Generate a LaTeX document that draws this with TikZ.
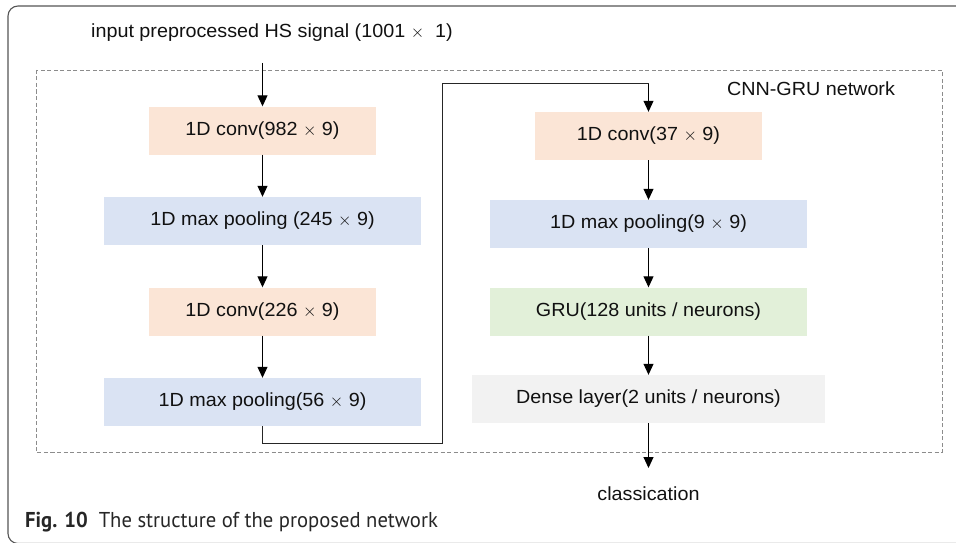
\documentclass[tikz,border=0pt]{standalone}
\usepackage{fontspec}
\setmainfont{Liberation Sans}[FakeStretch=1.04]
\newfontfamily\capfont{PT Sans}[FakeStretch=0.96]
\usetikzlibrary{arrows.meta}
\definecolor{convc}{HTML}{FBE5D6}
\definecolor{poolc}{HTML}{DAE3F3}
\definecolor{gruc}{HTML}{E2F0D9}
\definecolor{densec}{HTML}{F2F2F2}
\definecolor{framec}{HTML}{555555}
\definecolor{dashc}{HTML}{8C8C8C}
\definecolor{txtc}{HTML}{111111}
\begin{document}
\begin{tikzpicture}[x=1pt,y=-1pt,
  every node/.style={text=txtc,font=\fontsize{19}{22}\selectfont},
  layer/.style={draw=none,inner sep=0pt,minimum height=48pt},
  narrowbox/.style={layer,minimum width=227pt},
  widebox/.style={layer,minimum width=317pt},
  arr/.style={draw=black,line width=1pt,-{Triangle[length=11pt,width=10pt]}},
  link/.style={draw=black!85,line width=1pt}]
\useasboundingbox (0,0) rectangle (956,543);
\begin{scope}
\clip (0,0) rectangle (956,543);
\draw[framec,line width=1.1pt,rounded corners=10pt] (8,6) rectangle (990,543.5);
\end{scope}
\draw[dashc,dashed,line width=0.8pt,dash pattern=on 4pt off 2.5pt] (36,70) rectangle (942,452);

\node (input) at (272,33) {input preprocessed HS signal (1001 $\times$\ \ 1)};
\node (title) at (811,89) {CNN-GRU network};

\node[narrowbox,fill=convc] (conv1) at (262.5,130.5) {1D conv(982 $\times$ 9)};
\node[widebox,fill=poolc] (pool1) at (262.5,221) {1D max pooling (245 $\times$ 9)};
\node[narrowbox,fill=convc] (conv2) at (262.5,311.5) {1D conv(226 $\times$ 9)};
\node[widebox,fill=poolc] (pool2) at (262.5,402) {1D max pooling(56 $\times$ 9)};

\node[narrowbox,fill=convc] (conv3) at (648.5,136) {1D conv(37 $\times$ 9)};
\node[widebox,fill=poolc] (pool3) at (648.5,224) {1D max pooling(9 $\times$ 9)};
\node[widebox,fill=gruc] (gru) at (648.5,311.5) {GRU(128 units / neurons)};
\node[layer,minimum width=353pt,fill=densec] (dense) at (648.5,399) {Dense layer(2 units / neurons)};

\node[anchor=north,inner xsep=0pt,inner ysep=19pt] (cls) at (648.5,468) {classication};

\node[anchor=west,inner sep=0pt,text=black!85] (cap) at (25,522)
  {\capfont\fontsize{21.5}{24}\selectfont\textbf{Fig. 10}\ \ The structure of the proposed network};

\coordinate (s0) at (262.5,63);
\coordinate (b1) at (262.5,443);
\coordinate (b2) at (442,443);
\coordinate (b3) at (442,84);
\coordinate (b4) at (648.5,84);

\draw[arr] (s0) -- (conv1.north);
\draw[arr] (conv1.south) -- (pool1.north);
\draw[arr] (pool1.south) -- (conv2.north);
\draw[arr] (conv2.south) -- (pool2.north);
\draw[link] (pool2.south) -- (b1) -- (b2) -- (b3) -- (b4);
\draw[arr] (b4) -- (conv3.north);
\draw[arr] (conv3.south) -- (pool3.north);
\draw[arr] (pool3.south) -- (gru.north);
\draw[arr] (gru.south) -- (dense.north);
\draw[arr] (dense.south) -- (cls.north);
\end{tikzpicture}
\end{document}
